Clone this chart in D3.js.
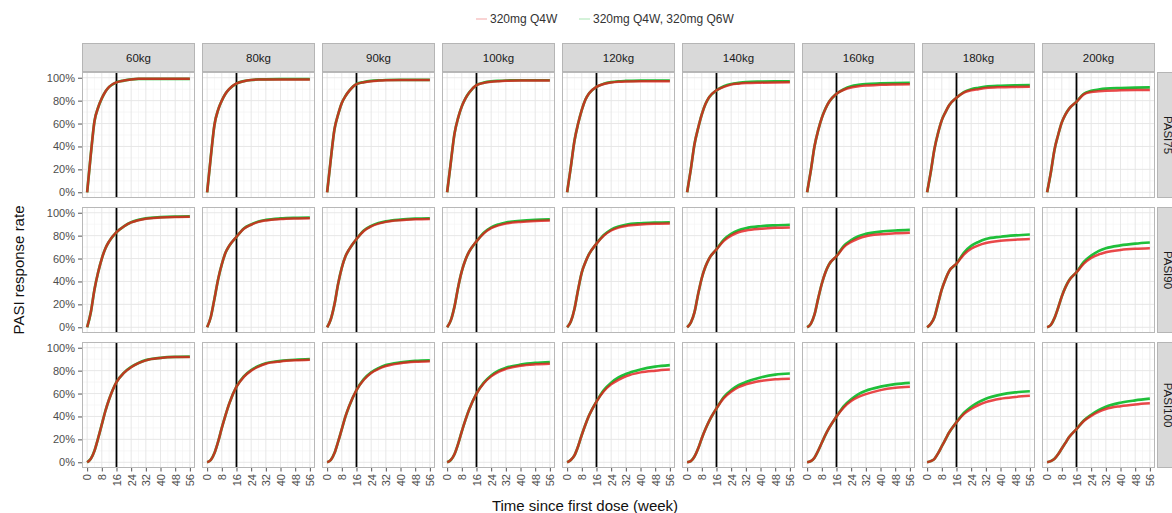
<!DOCTYPE html>
<html>
<head>
<meta charset="utf-8">
<script src="https://cdn.jsdelivr.net/npm/d3@7"></script>
<style>
  body { margin: 0; background: #fff; }
  text { font-family: "Liberation Sans", Arial, sans-serif; }
</style>
</head>
<body>
<div id="chart"></div>
<script>
// Chart data
var weeks = [0, 2, 4, 6, 8, 10, 12, 16, 20, 24, 28, 32, 40, 48, 56];
var weights = ["60kg", "80kg", "90kg", "100kg", "120kg", "140kg", "160kg", "180kg", "200kg"];
var endpoints = ["PASI75", "PASI90", "PASI100"];
var seriesNames = ["320mg Q4W", "320mg Q4W, 320mg Q6W"];
var xTicks = [0, 8, 16, 24, 32, 40, 48, 56];
var yTicks = [0, 0.2, 0.4, 0.6, 0.8, 1];
var switchWeek = 16;

// one row per weight, one value per week
var pasi75Q4W = [
    [0, .33, .62, .74, .82, .88, .92, .96, .975, .985, .99, .99, .99, .99, .99],
    [0, .31, .59, .72, .80, .86, .90, .95, .97, .98, .985, .985, .985, .985, .985],
    [0, .29, .55, .68, .78, .84, .885, .945, .96, .97, .975, .978, .98, .98, .98],
    [0, .26, .51, .65, .75, .82, .87, .935, .955, .965, .97, .973, .975, .975, .975],
    [0, .22, .45, .60, .72, .81, .865, .92, .945, .958, .965, .968, .97, .97, .97],
    [0, .20, .42, .56, .68, .77, .83, .89, .92, .94, .948, .953, .957, .959, .96],
    [0, .19, .40, .54, .65, .73, .79, .86, .895, .915, .925, .932, .938, .941, .943],
    [0, .18, .38, .52, .63, .70, .76, .825, .87, .89, .90, .91, .917, .92, .922],
    [0, .17, .37, .50, .61, .68, .73, .79, .855, .875, .882, .887, .89, .892, .893]
];
var pasi75Q6W = [
    [0, .33, .62, .74, .82, .88, .92, .96, .975, .985, .99, .99, .99, .99, .99],
    [0, .31, .59, .72, .80, .86, .90, .95, .97, .98, .985, .986, .987, .987, .987],
    [0, .29, .55, .68, .78, .84, .885, .945, .962, .972, .977, .98, .982, .982, .982],
    [0, .26, .51, .65, .75, .82, .87, .935, .957, .968, .973, .976, .978, .978, .978],
    [0, .22, .45, .60, .72, .81, .865, .92, .948, .962, .969, .972, .975, .976, .976],
    [0, .20, .42, .56, .68, .77, .83, .89, .925, .945, .955, .962, .966, .968, .969],
    [0, .19, .40, .54, .65, .73, .79, .86, .90, .925, .937, .945, .95, .953, .955],
    [0, .18, .38, .52, .63, .70, .76, .825, .875, .90, .912, .922, .93, .934, .936],
    [0, .17, .37, .50, .61, .68, .73, .79, .86, .885, .897, .905, .91, .913, .915]
];
var pasi90Q4W = [
    [0, .13, .33, .48, .60, .69, .75, .83, .88, .915, .935, .948, .958, .963, .965],
    [0, .09, .25, .42, .55, .65, .71, .79, .86, .895, .92, .933, .945, .95, .952],
    [0, .07, .20, .38, .52, .62, .68, .77, .84, .88, .905, .92, .935, .942, .945],
    [0, .06, .18, .35, .49, .59, .66, .75, .82, .865, .89, .905, .92, .928, .932],
    [0, .05, .16, .33, .48, .57, .64, .73, .80, .845, .87, .885, .897, .903, .905],
    [0, .04, .13, .29, .43, .53, .60, .68, .755, .80, .83, .845, .86, .868, .872],
    [0, .03, .11, .25, .38, .48, .55, .62, .70, .745, .775, .795, .812, .82, .825],
    [0, .03, .09, .21, .33, .42, .49, .555, .635, .685, .715, .735, .755, .765, .77],
    [0, .02, .08, .17, .27, .35, .41, .48, .555, .605, .635, .655, .675, .685, .69]
];
var pasi90Q6W = [
    [0, .13, .33, .48, .60, .69, .75, .83, .88, .917, .938, .951, .961, .966, .968],
    [0, .09, .25, .42, .55, .65, .71, .79, .862, .898, .923, .937, .95, .955, .957],
    [0, .07, .20, .38, .52, .62, .68, .77, .845, .885, .91, .925, .94, .948, .952],
    [0, .06, .18, .35, .49, .59, .66, .75, .825, .872, .898, .915, .93, .938, .942],
    [0, .05, .16, .33, .48, .57, .64, .73, .805, .853, .88, .895, .908, .914, .917],
    [0, .04, .13, .29, .43, .53, .60, .68, .765, .815, .847, .865, .882, .89, .895],
    [0, .03, .11, .25, .38, .48, .55, .62, .71, .76, .795, .815, .835, .845, .85],
    [0, .03, .09, .21, .33, .42, .49, .555, .65, .71, .745, .77, .79, .802, .81],
    [0, .02, .08, .17, .27, .35, .41, .48, .57, .625, .665, .69, .715, .73, .74]
];
var pasi100Q4W = [
    [0, .03, .10, .21, .33, .45, .55, .70, .78, .83, .865, .89, .91, .918, .92],
    [0, .02, .08, .18, .30, .41, .51, .66, .745, .80, .835, .86, .88, .89, .895],
    [0, .02, .08, .18, .29, .40, .49, .63, .72, .78, .815, .84, .865, .877, .882],
    [0, .02, .07, .16, .27, .37, .46, .60, .69, .75, .79, .815, .843, .855, .86],
    [0, .02, .06, .14, .24, .33, .41, .53, .62, .68, .72, .75, .785, .80, .81],
    [0, .01, .05, .12, .21, .29, .36, .47, .56, .615, .655, .68, .71, .725, .73],
    [0, .01, .04, .10, .17, .24, .30, .40, .48, .535, .57, .595, .63, .65, .66],
    [0, .01, .03, .08, .14, .20, .26, .35, .42, .465, .50, .525, .555, .57, .58],
    [0, .01, .03, .07, .12, .17, .22, .29, .36, .405, .44, .465, .49, .505, .515]
];
var pasi100Q6W = [
    [0, .03, .10, .21, .33, .45, .55, .70, .78, .832, .867, .892, .912, .92, .922],
    [0, .02, .08, .18, .30, .41, .51, .66, .75, .805, .84, .865, .885, .895, .90],
    [0, .02, .08, .18, .29, .40, .49, .63, .725, .785, .822, .848, .872, .885, .89],
    [0, .02, .07, .16, .27, .37, .46, .60, .695, .758, .80, .825, .852, .867, .875],
    [0, .02, .06, .14, .24, .33, .41, .53, .63, .695, .74, .77, .81, .835, .848],
    [0, .01, .05, .12, .21, .29, .36, .47, .57, .63, .672, .70, .74, .765, .775],
    [0, .01, .04, .10, .17, .24, .30, .40, .49, .55, .595, .625, .66, .682, .693],
    [0, .01, .03, .08, .14, .20, .26, .35, .43, .485, .525, .555, .59, .61, .62],
    [0, .01, .03, .07, .12, .17, .22, .29, .365, .415, .455, .485, .52, .54, .555]
];

var q4wByRow = [pasi75Q4W, pasi90Q4W, pasi100Q4W];
var q6wByRow = [pasi75Q6W, pasi90Q6W, pasi100Q6W];

// Layout
var svgWidth = 1172;
var svgHeight = 513;
var panelLeft = 82;
var colStep = 120;
var panelW = 113;
var rowTops = [72, 207, 342];
var panelH = 126;
var stripTop = 43;
var colors = { q4w: "#e41a1c", q6w: "#1fbf3a" };
var tickFont = "11px";
var stripFont = "11.5px";

var svg = d3.select("#chart")
    .append("svg")
    .attr("width", svgWidth)
    .attr("height", svgHeight);

// Scales (ggplot style 5% expansion)
var xScale = d3.scaleLinear()
    .domain([-2.8, 58.8])
    .range([0, panelW]);

var yScale = d3.scaleLinear()
    .domain([-0.05, 1.05])
    .range([panelH, 0]);

var line = d3.line()
    .x(d => xScale(d[0]))
    .y(d => yScale(d[1]))
    .curve(d3.curveMonotoneX);

var xMinor = [4, 12, 20, 28, 36, 44, 52];
var yMinor = [0.1, 0.3, 0.5, 0.7, 0.9];

// Legend
var legend = svg.append("g");
var legendItems = [
    { name: seriesNames[0], color: colors.q4w, x: 476 },
    { name: seriesNames[1], color: colors.q6w, x: 579 }
];
legendItems.forEach(function (item) {
    legend.append("line")
        .attr("x1", item.x).attr("x2", item.x + 11)
        .attr("y1", 19).attr("y2", 19)
        .attr("stroke", item.color)
        .attr("stroke-width", 1.5)
        .attr("opacity", 0.25);
    legend.append("text")
        .attr("x", item.x + 14)
        .attr("y", 23)
        .attr("font-size", "12px")
        .attr("fill", "#333")
        .text(item.name);
});

// Column strips
weights.forEach(function (w, c) {
    var x0 = panelLeft + c * colStep;
    svg.append("rect")
        .attr("x", x0 + 0.5).attr("y", stripTop + 0.5)
        .attr("width", panelW - 1).attr("height", rowTops[0] - stripTop - 1)
        .attr("fill", "#d9d9d9")
        .attr("stroke", "#b5b5b5");
    svg.append("text")
        .attr("x", x0 + panelW / 2)
        .attr("y", (stripTop + rowTops[0]) / 2 + 4)
        .attr("text-anchor", "middle")
        .attr("font-size", stripFont)
        .attr("fill", "#1a1a1a")
        .text(w);
});

// Row strips on the right
endpoints.forEach(function (ep, r) {
    var sx = panelLeft + 8 * colStep + panelW + 2;
    svg.append("rect")
        .attr("x", sx + 0.5).attr("y", rowTops[r] + 0.5)
        .attr("width", 24).attr("height", panelH - 1)
        .attr("fill", "#d9d9d9")
        .attr("stroke", "#b5b5b5");
    svg.append("text")
        .attr("transform", `translate(${sx + 6.5}, ${rowTops[r] + panelH / 2}) rotate(90)`)
        .attr("text-anchor", "middle")
        .attr("font-size", stripFont)
        .attr("fill", "#1a1a1a")
        .text(ep);
});

// Panels
endpoints.forEach(function (ep, r) {
    weights.forEach(function (w, c) {
        var g = svg.append("g")
            .attr("transform", `translate(${panelLeft + c * colStep}, ${rowTops[r]})`);

        // grid
        g.selectAll(".xminor").data(xMinor).enter().append("line")
            .attr("x1", d => xScale(d)).attr("x2", d => xScale(d))
            .attr("y1", 0).attr("y2", panelH)
            .attr("stroke", "#f2f2f2").attr("stroke-width", 0.6);
        g.selectAll(".yminor").data(yMinor).enter().append("line")
            .attr("x1", 0).attr("x2", panelW)
            .attr("y1", d => yScale(d)).attr("y2", d => yScale(d))
            .attr("stroke", "#f2f2f2").attr("stroke-width", 0.6);
        g.selectAll(".xmajor").data(xTicks).enter().append("line")
            .attr("x1", d => xScale(d)).attr("x2", d => xScale(d))
            .attr("y1", 0).attr("y2", panelH)
            .attr("stroke", "#e4e4e4").attr("stroke-width", 0.9);
        g.selectAll(".ymajor").data(yTicks).enter().append("line")
            .attr("x1", 0).attr("x2", panelW)
            .attr("y1", d => yScale(d)).attr("y2", d => yScale(d))
            .attr("stroke", "#e4e4e4").attr("stroke-width", 0.9);

        // week 16 marker
        g.append("line")
            .attr("x1", xScale(switchWeek)).attr("x2", xScale(switchWeek))
            .attr("y1", 0).attr("y2", panelH)
            .attr("stroke", "#000").attr("stroke-width", 1.8);

        // curves: Q6W under, Q4W on top
        var q6 = weeks.map((t, i) => [t, q6wByRow[r][c][i]]);
        var q4 = weeks.map((t, i) => [t, q4wByRow[r][c][i]]);
        g.append("path")
            .attr("d", line(q6))
            .attr("fill", "none")
            .attr("stroke", colors.q6w)
            .attr("stroke-width", 2.7);
        g.append("path")
            .attr("d", line(q4))
            .attr("fill", "none")
            .attr("stroke", colors.q4w)
            .attr("stroke-width", 2.5)
            .attr("opacity", 0.8);

        // border
        g.append("rect")
            .attr("x", 0.5).attr("y", 0.5)
            .attr("width", panelW - 1).attr("height", panelH - 1)
            .attr("fill", "none")
            .attr("stroke", "#b8b8b8");

        // y axis on first column
        if (c === 0) {
            var yAxis = d3.axisLeft(yScale)
                .tickValues(yTicks)
                .tickSize(4)
                .tickPadding(3)
                .tickFormat(d3.format(".0%"));
            var ya = g.append("g").call(yAxis);
            ya.select(".domain").remove();
            ya.selectAll("line").attr("stroke", "#555");
            ya.selectAll("text").attr("font-size", tickFont).attr("fill", "#4d4d4d")
                .attr("font-family", "Liberation Sans, Arial, sans-serif");
        }

        // x axis on bottom row
        if (r === 2) {
            var xAxis = d3.axisBottom(xScale)
                .tickValues(xTicks)
                .tickSize(3.5)
                .tickPadding(2);
            var xa = g.append("g")
                .attr("transform", `translate(0, ${panelH})`)
                .call(xAxis);
            xa.select(".domain").remove();
            xa.selectAll("line").attr("stroke", "#555");
            xa.selectAll("text")
                .attr("font-size", tickFont)
                .attr("fill", "#4d4d4d")
                .attr("font-family", "Liberation Sans, Arial, sans-serif")
                .attr("text-anchor", "end")
                .attr("transform", "rotate(-90)")
                .attr("x", -6)
                .attr("y", 0)
                .attr("dy", "0.35em");
        }
    });
});

// Axis titles
svg.append("text")
    .attr("transform", `translate(24, ${rowTops[0] + (rowTops[2] + panelH - rowTops[0]) / 2}) rotate(-90)`)
    .attr("text-anchor", "middle")
    .attr("font-size", "15px")
    .attr("fill", "#111")
    .text("PASI response rate");

svg.append("text")
    .attr("x", 585)
    .attr("y", 511)
    .attr("text-anchor", "middle")
    .attr("font-size", "15px")
    .attr("fill", "#111")
    .text("Time since first dose (week)");
</script>
</body>
</html>
